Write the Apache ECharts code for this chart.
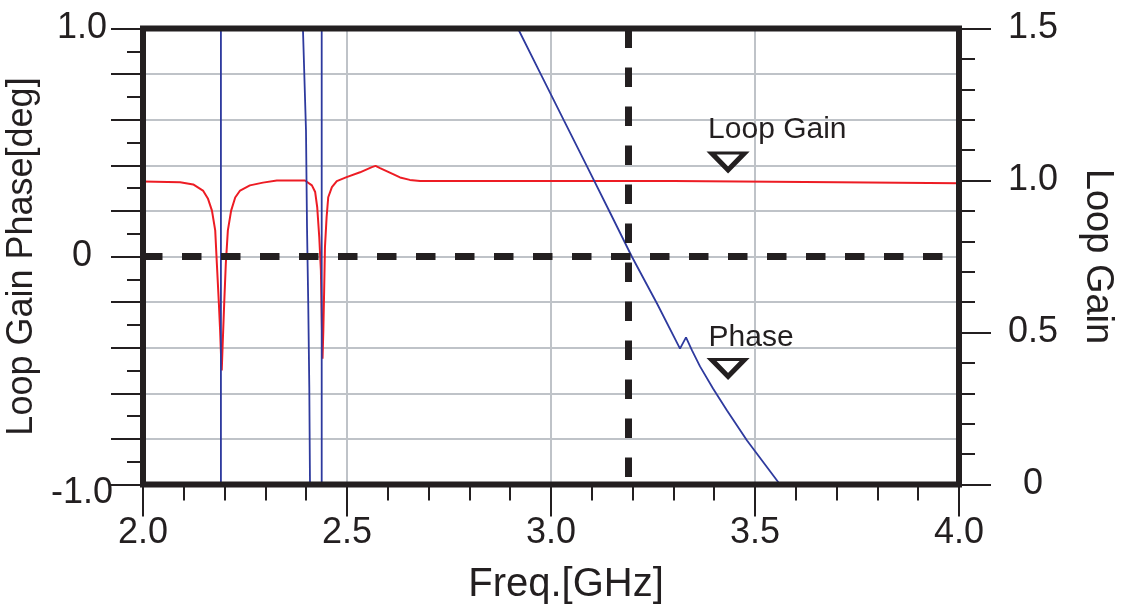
<!DOCTYPE html>
<html><head><meta charset="utf-8">
<script src="https://cdn.jsdelivr.net/npm/echarts@6/dist/echarts.min.js"></script>
<style>html,body{margin:0;padding:0;background:#fff}#c{width:1126px;height:610px}</style>
</head><body><div id="c"></div>
<script>
// Loop gain (red, right axis)
const gainFreq = [2.000,2.091,2.123,2.147,2.159,2.169,2.177,2.181,2.186,2.189,2.192,2.193,2.195,2.199,2.203,2.208,2.216,2.226,2.238,2.262,2.294,2.328,2.392,2.397,2.414,2.422,2.427,2.432,2.436,2.438,2.440,2.442,2.444,2.446,2.450,2.454,2.463,2.475,2.499,2.532,2.561,2.570,2.581,2.605,2.630,2.654,2.679,3.299,3.302,3.703,3.706,4.000];
const gainValue = [0.997,0.994,0.987,0.967,0.941,0.901,0.836,0.727,0.595,0.507,0.398,0.375,0.451,0.595,0.727,0.836,0.901,0.944,0.967,0.984,0.993,1.000,1.000,1.000,0.984,0.962,0.912,0.814,0.704,0.550,0.414,0.507,0.638,0.781,0.879,0.945,0.978,0.998,1.011,1.027,1.044,1.048,1.041,1.026,1.010,1.002,0.998,0.998,0.994,0.994,0.991,0.991];
// Loop gain phase (blue, left axis); values outside +-1 are phase wraps off the plot
const phaseFreq = [2.000,2.191,2.191,2.392,2.3995,2.402,2.405,2.4076,2.4093,2.438,2.438,2.919,2.9755,3.0319,3.0882,3.1446,3.198,3.2598,3.3162,3.3309,3.3456,3.3652,3.3971,3.4314,3.4804,3.5613];
const phaseValue = [-3,-3,3,1.0,0.553,0.127,-0.206,-0.575,-1.0,-3,3,1.0,0.798,0.596,0.395,0.193,0.0,-0.206,-0.404,-0.355,-0.412,-0.482,-0.579,-0.675,-0.807,-1.0];
// reference lines
const cursorFreq = 3.19;
const refPhase = 0;
// annotation markers
const markerFreq = 3.434;
const gainMarkerValue = 1.0625;
const phaseMarkerValue = -0.489;
const gainName = 'Loop Gain';
const phaseName = 'Phase';
// tick labels
const xTickValues = [2, 2.5, 3, 3.5, 4];
const xTickLabels = ['2.0', '2.5', '3.0', '3.5', '4.0'];
const leftTickValues = [-1, 0, 1];
const leftTickLabels = ['-1.0', '0', '1.0'];
const rightTickValues = [0, 0.5, 1, 1.5];
const rightTickLabels = ['0', '0.5', '1.0', '1.5'];
const xName = 'Freq.[GHz]';
const leftName = 'Loop Gain Phase[deg]';
const rightName = 'Loop Gain';

const INK = '#231f20';
const FONT = 'Liberation Sans, Arial, sans-serif';
function lookup(vals, labs, v) {
  const i = vals.findIndex(t => Math.abs(t - v) < 1e-6);
  return i >= 0 ? labs[i] : '';
}
const tickStyle = { color: INK, width: 2 };
const labelBase = { color: INK, fontSize: 36, fontFamily: FONT };

const chart = echarts.init(document.getElementById('c'), null, { renderer: 'canvas' });
chart.setOption({
  animation: false,
  backgroundColor: '#fff',
  grid: { left: 143, right: 167, top: 28.5, bottom: 125.5, show: true, z: 10,
          outerBoundsMode: 'none', containLabel: false,
          backgroundColor: 'transparent', borderColor: INK, borderWidth: 6 },
  xAxis: {
    type: 'value', min: 2, max: 4, interval: 0.5,
    axisLine: { show: false, onZero: false },
    axisTick: { show: true, length: 32, lineStyle: tickStyle },
    minorTick: { show: true, splitNumber: 5, length: 16, lineStyle: tickStyle },
    splitLine: { show: true, showMinLine: false, showMaxLine: false, lineStyle: { color: '#bfc3c8', width: 2 } },
    axisLabel: Object.assign({}, labelBase, { margin: 49, verticalAlign: 'middle',
      formatter: v => lookup(xTickValues, xTickLabels, v) }),
    name: xName, nameLocation: 'middle', nameGap: 100,
    nameTextStyle: Object.assign({}, labelBase, { fontSize: 40, verticalAlign: 'middle', padding: [0, 0, 0, 30] })
  },
  yAxis: [{
    type: 'value', min: -1, max: 1, interval: 0.2, position: 'left',
    axisLine: { show: false, onZero: false },
    axisTick: { show: true, length: 32, lineStyle: tickStyle },
    minorTick: { show: true, splitNumber: 2, length: 16, lineStyle: tickStyle },
    splitLine: { show: true, showMinLine: false, showMaxLine: false, lineStyle: { color: '#bfc3c8', width: 2 } },
    axisLabel: Object.assign({}, labelBase, { margin: 61, align: 'center', verticalAlign: 'middle',
      formatter: v => { const s = lookup(leftTickValues, leftTickLabels, v); return Math.abs(v + 1) < 1e-6 ? '{low|' + s + '}' : s; },
      rich: { low: { color: INK, fontSize: 36, fontFamily: FONT, padding: [18, 0, 0, 0] } } }),
    name: leftName, nameLocation: 'middle', nameGap: 113, nameRotate: 90,
    nameTextStyle: Object.assign({}, labelBase, { align: 'center', verticalAlign: 'middle' })
  }, {
    type: 'value', min: 0, max: 1.5, interval: 0.5, position: 'right',
    axisLine: { show: false, onZero: false },
    axisTick: { show: true, length: 32, lineStyle: tickStyle },
    minorTick: { show: true, splitNumber: 5, length: 16, lineStyle: tickStyle },
    splitLine: { show: false },
    axisLabel: Object.assign({}, labelBase, { margin: 74, align: 'center', verticalAlign: 'middle',
      formatter: v => lookup(rightTickValues, rightTickLabels, v) }),
    name: rightName, nameLocation: 'middle', nameGap: 138, nameRotate: -90,
    nameTextStyle: Object.assign({}, labelBase, { fontSize: 38, align: 'center', verticalAlign: 'middle' })
  }],
  series: [{
    name: gainName, type: 'line', yAxisIndex: 1, showSymbol: false, symbol: 'none',
    data: gainFreq.map((f, i) => [f, gainValue[i]]),
    lineStyle: { color: '#ed1c24', width: 2 }, silent: true, z: 3,
    markPoint: {
      silent: true,
      symbol: 'path://M0,0L40,0L20,22Z', symbolSize: [33, 17],
      itemStyle: { color: '#fff', borderColor: INK, borderWidth: 4.5 },
      label: { show: true, position: 'inside', align: 'left', verticalAlign: 'middle', offset: [-20, -31.5],
               color: INK, fontSize: 30, fontFamily: FONT, formatter: gainName },
      data: [{ coord: [markerFreq, gainMarkerValue] }]
    }
  }, {
    name: phaseName, type: 'line', yAxisIndex: 0, showSymbol: false, symbol: 'none',
    data: phaseFreq.map((f, i) => [f, phaseValue[i]]),
    lineStyle: { color: '#2e3a9e', width: 1.8 }, silent: true, z: 4,
    markLine: {
      silent: true, symbol: ['none', 'none'], label: { show: false },
      lineStyle: { color: INK, width: 7, type: [19.5, 19.5], cap: 'butt' },
      data: [
        [{ coord: [2, refPhase] }, { coord: [4, refPhase] }],
        [{ coord: [cursorFreq, 1] }, { coord: [cursorFreq, -1] }]
      ]
    },
    markPoint: {
      silent: true,
      symbol: 'path://M0,0L40,0L20,22Z', symbolSize: [33, 17],
      itemStyle: { color: '#fff', borderColor: INK, borderWidth: 4.5 },
      label: { show: true, position: 'inside', align: 'left', verticalAlign: 'middle', offset: [-19.5, -30.5],
               color: INK, fontSize: 30, fontFamily: FONT, formatter: phaseName },
      data: [{ coord: [markerFreq, phaseMarkerValue] }]
    }
  }]
});
</script>
</body></html>
